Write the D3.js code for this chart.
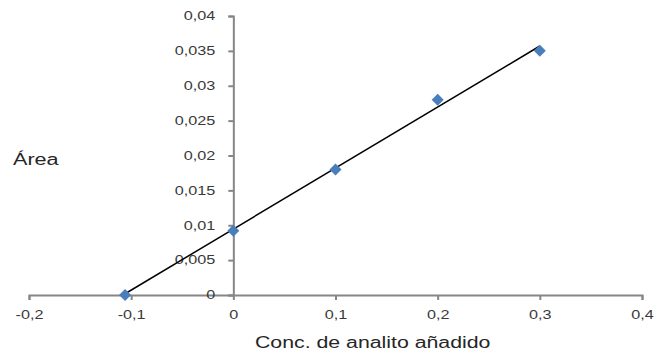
<!DOCTYPE html>
<html>
<head>
<meta charset="utf-8">
<script src="https://cdn.jsdelivr.net/npm/d3@7"></script>
<style>
  body { margin: 0; background: #fff; }
  text { font-family: "Liberation Sans", Arial, sans-serif; }
</style>
</head>
<body>
<script>
// data
var conc = [-0.106, 0, 0.1, 0.2, 0.3];
var area = [0, 0.0092, 0.018, 0.028, 0.035];
var trendX = [-0.108, 0.3];
var trendY = [0, 0.0357];
var xTicks = [-0.2, -0.1, 0, 0.1, 0.2, 0.3, 0.4];
var yTicks = [0, 0.005, 0.01, 0.015, 0.02, 0.025, 0.03, 0.035, 0.04];

var width = 654, height = 361;
var stretch = 1.35; // text in the picture is stretched sideways
var svg = d3.select("body").append("svg")
  .attr("width", width).attr("height", height);

var x = d3.scaleLinear().domain([-0.2, 0.4]).range([29, 642]);
var y = d3.scaleLinear().domain([0, 0.04]).range([295, 16]);

var fmt = function(d){ return String(+d.toFixed(3)).replace(".", ","); };
var axisColor = "#868686";

function widen(sel, f){
  sel.each(function(){
    this.setAttribute("textLength", this.getComputedTextLength() * f);
    this.setAttribute("lengthAdjust", "spacingAndGlyphs");
  });
}

// x axis at y=0
var gx = svg.append("g").attr("transform", "translate(0," + y(0) + ")")
  .call(d3.axisBottom(x).tickValues(xTicks).tickFormat(fmt).tickSize(5).tickPadding(10));
// y axis at x=0
var gy = svg.append("g").attr("transform", "translate(" + x(0) + ",0)")
  .call(d3.axisLeft(y).tickValues(yTicks).tickFormat(fmt).tickSize(5).tickPadding(13));

[gx, gy].forEach(function(g){
  g.select(".domain").attr("stroke", axisColor).attr("stroke-width", 2);
  g.selectAll(".tick line").attr("stroke", axisColor).attr("stroke-width", 2);
  g.selectAll(".tick text").attr("fill", "#3a3a3a").attr("font-size", 12)
    .attr("font-family", "'Liberation Sans', Arial, sans-serif");
  widen(g.selectAll(".tick text"), stretch);
});

// trend line
var line = d3.line().x(function(d){ return x(d[0]); }).y(function(d){ return y(d[1]); });
svg.append("path")
  .attr("d", line(trendX.map(function(v, i){ return [v, trendY[i]]; })))
  .attr("stroke", "#000").attr("stroke-width", 1.5).attr("fill", "none");

// markers (square turned 45deg)
svg.selectAll("path.pt").data(conc).enter().append("path")
  .attr("class", "pt")
  .attr("d", d3.symbol().type(d3.symbolSquare).size(72))
  .attr("transform", function(d, i){ return "translate(" + x(d) + "," + y(area[i]) + ") rotate(45)"; })
  .attr("fill", "#4a7ebb");

// axis titles
var t1 = svg.append("text").text("Conc. de analito añadido")
  .attr("x", 255).attr("y", 348).attr("text-anchor", "start")
  .attr("font-size", 16).attr("fill", "#262626");
widen(t1, 1.33);
var t2 = svg.append("text").text("Área")
  .attr("x", 13).attr("y", 165).attr("text-anchor", "start")
  .attr("font-size", 16).attr("fill", "#262626");
widen(t2, 1.35);
</script>
</body>
</html>
